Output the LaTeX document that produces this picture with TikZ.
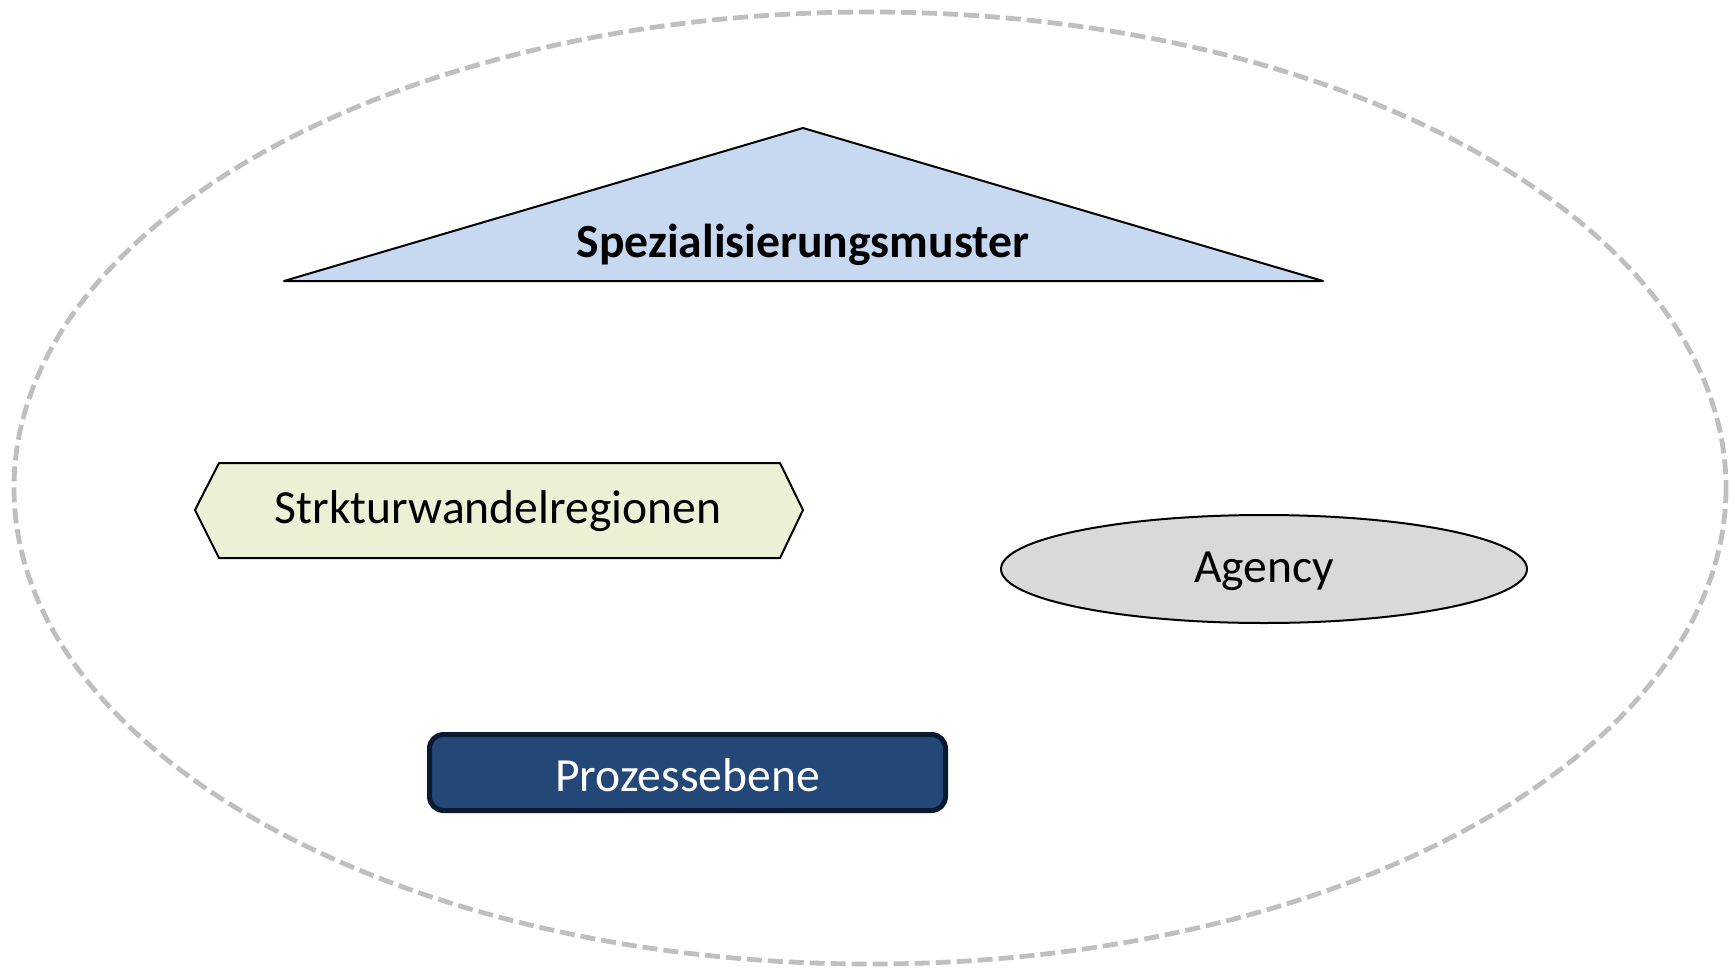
\documentclass[tikz,border=0pt]{standalone}
\usepackage{fontspec}
\setmainfont{Carlito}
\usetikzlibrary{shapes.geometric}
\definecolor{outline}{HTML}{BFBFBF}
\definecolor{trifill}{HTML}{C6D9F1}
\definecolor{hexfill}{HTML}{EBF1D5}
\definecolor{agfill}{HTML}{D9D9D9}
\definecolor{procfill}{HTML}{234878}
\definecolor{procdraw}{HTML}{0C1A30}
\tikzset{
  shapeline/.style={draw=black, line width=1pt, line join=round},
  lbl/.style={font=\fontsize{23.8}{28}\selectfont, inner sep=0pt},
}
\begin{document}
\begin{tikzpicture}[x=0.5pt, y=-0.5pt]
\useasboundingbox (0,0) rectangle (1735,969);
% outer dashed ellipse
\draw[outline, line width=2.4pt, dash pattern=on 7.5pt off 3pt] (870,488) ellipse [x radius=856, y radius=476];
% triangle
\filldraw[shapeline, fill=trifill] (284,281) -- (803,128) -- (1323,281) -- cycle;
\node[lbl, font=\fontsize{23.8}{28}\selectfont\bfseries] (spez) at (803,245) {Spezialisierungsmuster};
% hexagon
\filldraw[shapeline, fill=hexfill] (195,510) -- (219,463) -- (780,463) -- (803,510) -- (780,558) -- (219,558) -- cycle;
\node[lbl] (strk) at (498,511) {Strkturwandelregionen};
% agency ellipse
\node[ellipse, draw=black, line width=1pt, fill=agfill, minimum width=263pt, minimum height=54pt, inner sep=0pt] (ag) at (1264,569) {};
\node[lbl] (agt) at (1264,571) {Agency};
% Prozessebene
\node[draw=procdraw, line width=2.5pt, fill=procfill, rounded corners=7pt, minimum width=258pt, minimum height=38pt, inner sep=0pt] (proc) at (687.5,772.5) {};
\node[lbl, text=white] (proct) at (687.5,775) {Prozessebene};
\end{tikzpicture}
\end{document}
